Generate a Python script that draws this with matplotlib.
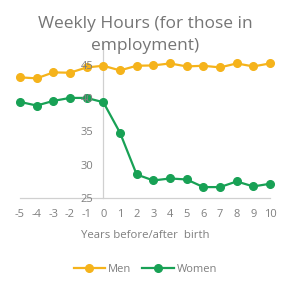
import matplotlib
matplotlib.use("Agg")
import matplotlib.pyplot as plt

years = list(range(-5, 11))
men = [43.15, 43.0, 43.9, 43.85, 44.65, 44.9, 44.2, 44.9, 44.95, 45.25, 44.8, 44.9, 44.65, 45.25, 44.8, 45.25]
women = [39.45, 38.9, 39.6, 40.05, 40.05, 39.4, 34.8, 28.5, 27.6, 27.9, 27.75, 26.6, 26.6, 27.45, 26.7, 27.1]
yticks = [25, 30, 35, 40, 45]
title_lines = ["Weekly Hours (for those in", "employment)"]
xlabel = "Years before/after  birth"

plt.rcParams['font.family'] = ['Open Sans', 'DejaVu Sans']
plt.rcParams['axes.unicode_minus'] = False
grey = '#7f7f7f'

fig = plt.figure(figsize=(2.91, 2.88), dpi=100)
ax = fig.add_axes([20/291, 1-197.7/288, 250/291, (197.7-43)/288])

ax.plot(years, men, color='#F5B31B', lw=1.6, marker='o', ms=5.5, label='Men', clip_on=False, zorder=3)
ax.plot(years, women, color='#18A155', lw=1.6, marker='o', ms=5.5, label='Women', clip_on=False, zorder=3)

ax.set_xlim(-5, 10)
ax.set_ylim(25, 25 + (197.7-43)/6.63)
ax.set_xticks(years)
ax.set_yticks(yticks)
ax.tick_params(axis='both', length=0, colors=grey, labelsize=8)
ax.tick_params(axis='x', pad=8)
ax.tick_params(axis='y', pad=7)
ax.yaxis.set_zorder(5)

ax.spines['left'].set_position(('data', 0))
ax.spines['left'].set_color('#d0d0d0')
ax.spines['left'].set_linewidth(0.9)
ax.spines['bottom'].set_color('#d0d0d0')
ax.spines['bottom'].set_linewidth(0.9)
ax.spines['top'].set_visible(False)
ax.spines['right'].set_visible(False)

ax.set_xlabel(xlabel, color=grey, fontsize=8.2, labelpad=7)
for i, line in enumerate(title_lines):
    fig.text(0.5, 1-(28+22*i)/288, line, ha='center', va='baseline', fontsize=12.5, color='#757575')

fig.legend(loc='center', bbox_to_anchor=(0.5, 1-269/288), ncol=2, frameon=False,
           fontsize=8, labelcolor=grey, handlelength=2.8, columnspacing=1.0, handletextpad=0.3)

fig.savefig('out.png', dpi=100)
